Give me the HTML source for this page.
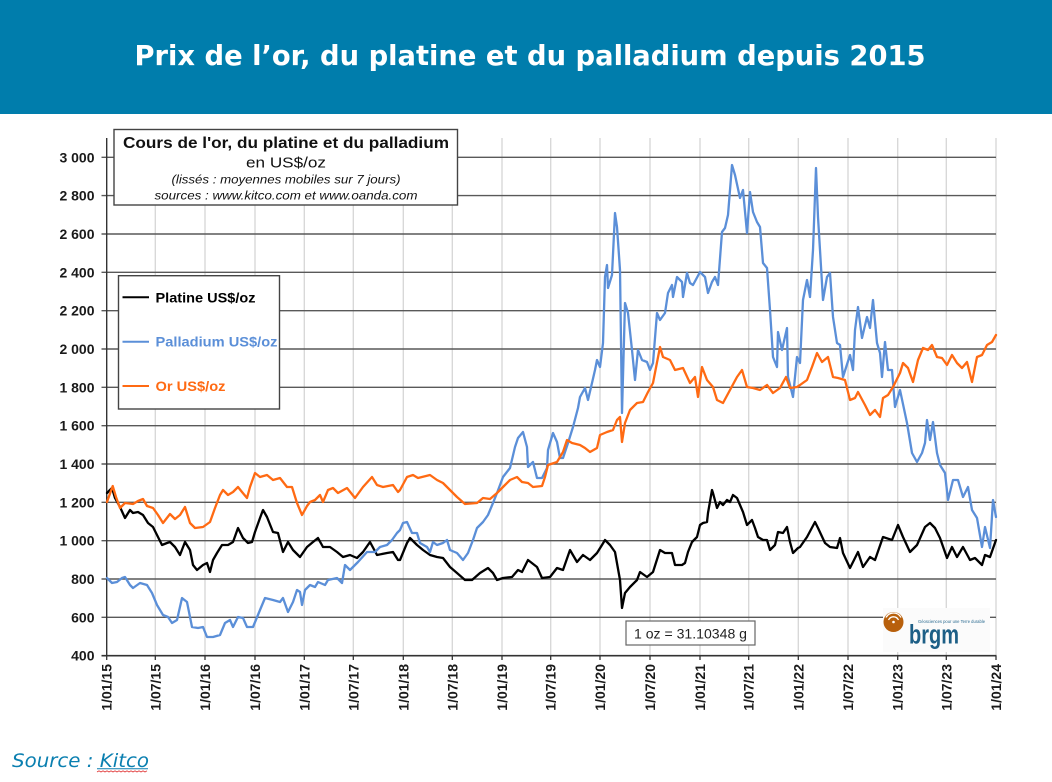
<!DOCTYPE html>
<html><head><meta charset="utf-8"><style>
html,body{margin:0;padding:0;background:#fff;}
svg{display:block;}
</style></head><body>
<svg width="1052" height="782" viewBox="0 0 1052 782" xmlns="http://www.w3.org/2000/svg">
<rect x="0" y="0" width="1052" height="782" fill="#fff"/>
<rect x="0" y="0" width="1052" height="114" fill="#007dac"/>
<text x="530" y="65" text-anchor="middle" font-family="DejaVu Sans, Liberation Sans, sans-serif" font-weight="bold" font-size="28" fill="#fff" textLength="791" lengthAdjust="spacingAndGlyphs">Prix de l’or, du platine et du palladium depuis 2015</text>

<!-- vertical light grid -->
<g stroke="#d6d6d6" stroke-width="1.3">
<line x1="155.3" y1="138" x2="155.3" y2="656"/><line x1="205" y1="138" x2="205" y2="656"/><line x1="255" y1="138" x2="255" y2="656"/><line x1="304.3" y1="138" x2="304.3" y2="656"/><line x1="353.3" y1="138" x2="353.3" y2="656"/><line x1="403.3" y1="138" x2="403.3" y2="656"/><line x1="452.3" y1="138" x2="452.3" y2="656"/><line x1="502" y1="138" x2="502" y2="656"/><line x1="550.7" y1="138" x2="550.7" y2="656"/><line x1="600" y1="138" x2="600" y2="656"/><line x1="650" y1="138" x2="650" y2="656"/><line x1="700" y1="138" x2="700" y2="656"/><line x1="748.7" y1="138" x2="748.7" y2="656"/><line x1="798.3" y1="138" x2="798.3" y2="656"/><line x1="848" y1="138" x2="848" y2="656"/><line x1="897.7" y1="138" x2="897.7" y2="656"/><line x1="946.3" y1="138" x2="946.3" y2="656"/><line x1="996" y1="138" x2="996" y2="656"/>
</g>
<!-- horizontal grid -->
<g stroke="#595959" stroke-width="1.4">
<line x1="101.5" y1="157.3" x2="996" y2="157.3"/><line x1="101.5" y1="195.6" x2="996" y2="195.6"/><line x1="101.5" y1="234" x2="996" y2="234"/><line x1="101.5" y1="272.3" x2="996" y2="272.3"/><line x1="101.5" y1="310.7" x2="996" y2="310.7"/><line x1="101.5" y1="349" x2="996" y2="349"/><line x1="101.5" y1="387.3" x2="996" y2="387.3"/><line x1="101.5" y1="425.7" x2="996" y2="425.7"/><line x1="101.5" y1="464" x2="996" y2="464"/><line x1="101.5" y1="502.3" x2="996" y2="502.3"/><line x1="101.5" y1="540.7" x2="996" y2="540.7"/><line x1="101.5" y1="579" x2="996" y2="579"/><line x1="101.5" y1="617.3" x2="996" y2="617.3"/>
</g>
<!-- axes -->
<line x1="106.7" y1="138" x2="106.7" y2="656.5" stroke="#333" stroke-width="1.4"/>
<line x1="101.5" y1="655.7" x2="996.5" y2="655.7" stroke="#333" stroke-width="1.6"/>
<g stroke="#333" stroke-width="1.3">
<line x1="106.7" y1="656" x2="106.7" y2="660"/><line x1="155.3" y1="656" x2="155.3" y2="660"/><line x1="205" y1="656" x2="205" y2="660"/><line x1="255" y1="656" x2="255" y2="660"/><line x1="304.3" y1="656" x2="304.3" y2="660"/><line x1="353.3" y1="656" x2="353.3" y2="660"/><line x1="403.3" y1="656" x2="403.3" y2="660"/><line x1="452.3" y1="656" x2="452.3" y2="660"/><line x1="502" y1="656" x2="502" y2="660"/><line x1="550.7" y1="656" x2="550.7" y2="660"/><line x1="600" y1="656" x2="600" y2="660"/><line x1="650" y1="656" x2="650" y2="660"/><line x1="700" y1="656" x2="700" y2="660"/><line x1="748.7" y1="656" x2="748.7" y2="660"/><line x1="798.3" y1="656" x2="798.3" y2="660"/><line x1="848" y1="656" x2="848" y2="660"/><line x1="897.7" y1="656" x2="897.7" y2="660"/><line x1="946.3" y1="656" x2="946.3" y2="660"/><line x1="996" y1="656" x2="996" y2="660"/>
</g>

<!-- y labels -->
<g font-family="Liberation Sans, Arial, sans-serif" font-weight="bold" font-size="14" fill="#1a1a1a" text-anchor="end">
<text x="94.5" y="162.3">3 000</text><text x="94.5" y="200.6">2 800</text><text x="94.5" y="239">2 600</text><text x="94.5" y="277.3">2 400</text><text x="94.5" y="315.7">2 200</text><text x="94.5" y="354">2 000</text><text x="94.5" y="392.3">1 800</text><text x="94.5" y="430.7">1 600</text><text x="94.5" y="469">1 400</text><text x="94.5" y="507.3">1 200</text><text x="94.5" y="545.7">1 000</text><text x="94.5" y="584">800</text><text x="94.5" y="622.3">600</text><text x="94.5" y="660.7">400</text>
</g>
<!-- x labels -->
<g font-family="Liberation Sans, Arial, sans-serif" font-weight="bold" font-size="14" fill="#1a1a1a" text-anchor="end">
<text transform="translate(111.7,664) rotate(-90)">1/01/15</text>
<text transform="translate(160.3,664) rotate(-90)">1/07/15</text>
<text transform="translate(210,664) rotate(-90)">1/01/16</text>
<text transform="translate(260,664) rotate(-90)">1/07/16</text>
<text transform="translate(309.3,664) rotate(-90)">1/01/17</text>
<text transform="translate(358.3,664) rotate(-90)">1/07/17</text>
<text transform="translate(408.3,664) rotate(-90)">1/01/18</text>
<text transform="translate(457.3,664) rotate(-90)">1/07/18</text>
<text transform="translate(507,664) rotate(-90)">1/01/19</text>
<text transform="translate(555.7,664) rotate(-90)">1/07/19</text>
<text transform="translate(605,664) rotate(-90)">1/01/20</text>
<text transform="translate(655,664) rotate(-90)">1/07/20</text>
<text transform="translate(705,664) rotate(-90)">1/01/21</text>
<text transform="translate(753.7,664) rotate(-90)">1/07/21</text>
<text transform="translate(803.3,664) rotate(-90)">1/01/22</text>
<text transform="translate(853,664) rotate(-90)">1/07/22</text>
<text transform="translate(902.7,664) rotate(-90)">1/01/23</text>
<text transform="translate(951.3,664) rotate(-90)">1/07/23</text>
<text transform="translate(1001,664) rotate(-90)">1/01/24</text>
</g>

<!-- series -->
<g fill="none" stroke-width="2.3" stroke-linejoin="round" stroke-linecap="round">
<polyline stroke="#000" points="107,493 112,488 115,498 120,507 125,518 130,510 133,513 138,512 143,515 148,523 153,527 158,537 162,545 167,543 170,542 175,547 180,555 185,542 190,550 193,565 197,570 203,565 207,563 210,572 213,560 217,553 222,545 228,545 233,542 238,528 243,538 248,543 252,542 255,532 260,518 263,510 267,517 273,532 278,533 283,552 288,542 293,550 300,557 307,547 313,542 318,538 323,547 330,547 337,552 343,557 350,555 357,558 363,552 370,542 377,555 387,553 393,552 398,560 400,560 407,543 410,538 417,545 423,550 430,555 437,557 443,558 450,567 457,573 465,580 472,580 480,573 488,568 493,573 497,580 503,578 512,577 518,570 522,572 528,560 537,567 542,578 550,577 557,568 563,570 570,550 577,562 583,555 590,560 597,553 602,545 605,540 610,545 615,552 620,580 622,608 625,593 630,587 637,580 640,572 647,577 653,572 660,550 665,553 672,553 675,565 682,565 685,563 688,552 692,542 697,537 700,525 703,523 707,522 708,513 712,490 713,493 717,508 720,502 723,505 727,500 730,502 733,495 737,498 740,505 743,512 747,525 752,520 755,528 758,537 763,540 767,540 770,550 775,545 778,532 783,533 787,527 790,542 793,553 798,548 800,547 807,537 815,522 818,528 825,543 830,547 837,548 840,538 843,553 850,568 858,552 863,567 870,557 875,560 883,537 892,540 898,525 903,537 910,552 917,545 925,527 930,523 935,528 940,538 947,558 952,547 957,557 963,547 970,560 975,558 982,565 985,555 990,557 996,540"/>
<polyline stroke="#5b8fd8" points="107,578 112,583 117,582 122,578 125,577 130,585 133,588 140,583 147,585 152,593 157,605 163,615 168,617 172,623 177,620 182,598 187,602 192,627 198,628 203,627 207,637 213,637 220,635 225,623 230,620 233,627 238,617 243,618 247,627 253,627 260,610 265,598 273,600 280,602 283,598 288,612 293,602 297,590 300,592 302,605 305,590 310,585 315,587 318,582 325,585 328,580 337,578 342,583 345,565 350,570 358,562 367,552 375,552 380,547 387,545 392,540 397,533 400,530 403,523 407,522 412,533 417,533 420,543 427,547 430,552 433,542 437,545 443,543 447,540 450,550 457,553 463,560 468,553 473,540 477,528 483,522 488,515 493,503 497,493 503,477 510,468 515,447 518,438 523,432 527,447 528,467 533,462 537,478 542,478 547,468 548,450 553,433 557,442 560,458 563,458 568,443 573,427 578,408 580,397 585,388 588,400 592,383 595,370 597,360 600,367 603,343 605,277 607,265 608,288 612,275 615,213 617,227 620,270 622,413 625,303 628,313 632,350 635,380 638,350 642,360 647,362 650,370 653,363 657,313 660,320 665,313 668,293 672,285 673,297 677,277 682,282 683,297 687,273 690,283 693,285 700,272 705,277 708,293 712,282 715,277 718,285 722,232 725,228 728,215 732,165 735,175 740,198 743,190 747,233 750,192 753,212 757,222 760,227 763,263 767,268 770,310 773,357 777,367 778,332 782,350 787,328 788,377 793,397 797,357 800,363 803,300 807,280 810,297 813,250 816,168 818,217 820,250 823,300 827,277 830,273 833,317 837,343 840,345 843,377 850,355 853,370 855,330 858,307 862,338 867,317 870,328 873,300 877,343 880,353 882,377 885,342 888,370 892,370 895,407 900,390 907,423 912,453 917,462 922,453 925,443 927,420 930,440 933,422 937,453 940,465 945,473 948,500 953,480 958,480 963,497 968,487 972,510 977,518 982,547 985,527 990,548 993,500 996,517"/>
<polyline stroke="#ff6a13" points="107,502 112.7,486 116,497 120,508 125,503 133,504 138,501 143,499 147,506 153,508 158,515 163,523 170,514 175,519 180,515 185,507 190,523 195,528 203,527 210,522 215,508 220,495 223,490 228,495 233,492 238,487 242,492 247,498 250,487 255,473 260,477 267,475 273,480 280,478 287,487 292,487 297,503 302,515 307,506 310,502 315,500 320,495 323,502 328,490 333,488 338,493 347,488 355,498 363,487 372,477 377,485 383,487 393,485 398,492 400,490 407,477 413,475 418,478 430,475 437,480 443,483 450,490 457,497 465,504 477,503 483,498 490,499 497,493 503,487 510,480 517,477 522,482 528,483 533,487 542,486 545,477 548,465 557,462 563,452 567,440 572,443 580,445 585,448 590,452 597,448 600,435 607,432 613,430 617,420 620,417 622,442 625,423 630,410 637,403 643,402 648,392 653,383 660,347 663,357 670,360 675,370 683,368 690,383 695,377 698,397 702,367 707,380 713,387 717,400 723,403 730,390 737,377 742,370 747,387 753,388 760,390 767,385 773,393 780,388 786,377 790,388 797,387 800,385 807,380 812,367 817,353 822,362 828,357 833,377 838,378 845,380 850,400 855,398 858,392 865,405 870,415 875,410 880,417 883,398 888,395 893,387 900,373 903,363 908,368 913,382 918,360 923,348 928,350 932,345 937,357 942,358 947,365 952,355 957,363 962,368 967,362 972,382 977,357 982,355 987,345 992,342 996,335"/>
</g>

<!-- title box -->
<rect x="114" y="129.5" width="343.5" height="75.5" fill="#fff" stroke="#444" stroke-width="1.4"/>
<g font-family="Liberation Sans, Arial, sans-serif" fill="#111" text-anchor="middle">
<text x="286" y="148" font-weight="bold" font-size="16" textLength="326" lengthAdjust="spacingAndGlyphs">Cours de l'or, du platine et du palladium</text>
<text x="286" y="167.5" font-size="15" textLength="80" lengthAdjust="spacingAndGlyphs">en US$/oz</text>
<text x="286" y="183.5" font-style="italic" font-size="11.5" textLength="229" lengthAdjust="spacingAndGlyphs">(lissés : moyennes mobiles sur 7 jours)</text>
<text x="286" y="199.5" font-style="italic" font-size="11.5" textLength="263" lengthAdjust="spacingAndGlyphs">sources : www.kitco.com et www.oanda.com</text>
</g>

<!-- legend -->
<rect x="118.5" y="275.7" width="161" height="133.3" fill="#fff" stroke="#444" stroke-width="1.4"/>
<line x1="122.5" y1="297.3" x2="149" y2="297.3" stroke="#000" stroke-width="2"/>
<line x1="122.5" y1="341.7" x2="149" y2="341.7" stroke="#5b8fd8" stroke-width="2"/>
<line x1="122.5" y1="386" x2="149" y2="386" stroke="#ff6a13" stroke-width="2"/>
<g font-family="Liberation Sans, Arial, sans-serif" font-weight="bold" font-size="14">
<text x="155.5" y="302.3" fill="#000" textLength="100" lengthAdjust="spacingAndGlyphs">Platine US$/oz</text>
<text x="155.5" y="346.7" fill="#5b8fd8" textLength="122" lengthAdjust="spacingAndGlyphs">Palladium US$/oz</text>
<text x="155.5" y="391" fill="#ff6a13" textLength="70" lengthAdjust="spacingAndGlyphs">Or US$/oz</text>
</g>

<!-- 1 oz box -->
<rect x="626" y="621" width="129" height="24" fill="#fff" stroke="#666" stroke-width="1.2"/>
<text x="690.5" y="638.5" text-anchor="middle" font-family="Liberation Sans, Arial, sans-serif" font-size="13.5" fill="#222" textLength="113" lengthAdjust="spacingAndGlyphs">1 oz = 31.10348 g</text>

<!-- brgm logo -->
<rect x="883" y="608" width="107" height="44" fill="#fbfbfb"/>
<circle cx="893.5" cy="622" r="10" fill="#b8600c"/>
<path d="M888.5 620 a5.5 5.5 0 0 1 10 0" fill="none" stroke="#fff" stroke-width="1.3"/>
<path d="M886 617.5 a8.5 8.5 0 0 1 15 0" fill="none" stroke="#fff" stroke-width="1.3"/>
<circle cx="893.5" cy="622" r="1.3" fill="#fff"/>
<text x="918" y="623" font-family="Liberation Sans, Arial, sans-serif" font-size="4.5" fill="#2a6a90" textLength="67" lengthAdjust="spacingAndGlyphs">Géosciences pour une Terre durable</text>
<text x="909" y="643.5" font-family="Liberation Sans, Arial, sans-serif" font-weight="bold" font-size="27" fill="#1d5f86" textLength="50" lengthAdjust="spacingAndGlyphs">brgm</text>

<!-- source -->
<text x="12" y="767" font-family="DejaVu Sans, Liberation Sans, sans-serif" font-style="italic" font-size="19" fill="#0a7fb0" textLength="137" lengthAdjust="spacingAndGlyphs">Source : Kitco</text>
<line x1="97" y1="768.8" x2="148" y2="768.8" stroke="#0a7fb0" stroke-width="1"/>
<polyline points="97,772 99,770.8 101,772 103,770.8 105,772 107,770.8 109,772 111,770.8 113,772 115,770.8 117,772 119,770.8 121,772 123,770.8 125,772 127,770.8 129,772 131,770.8 133,772 135,770.8 137,772 139,770.8 141,772 143,770.8 145,772 147,770.8" fill="none" stroke="#e03030" stroke-width="0.8"/>
</svg>
</body></html>
